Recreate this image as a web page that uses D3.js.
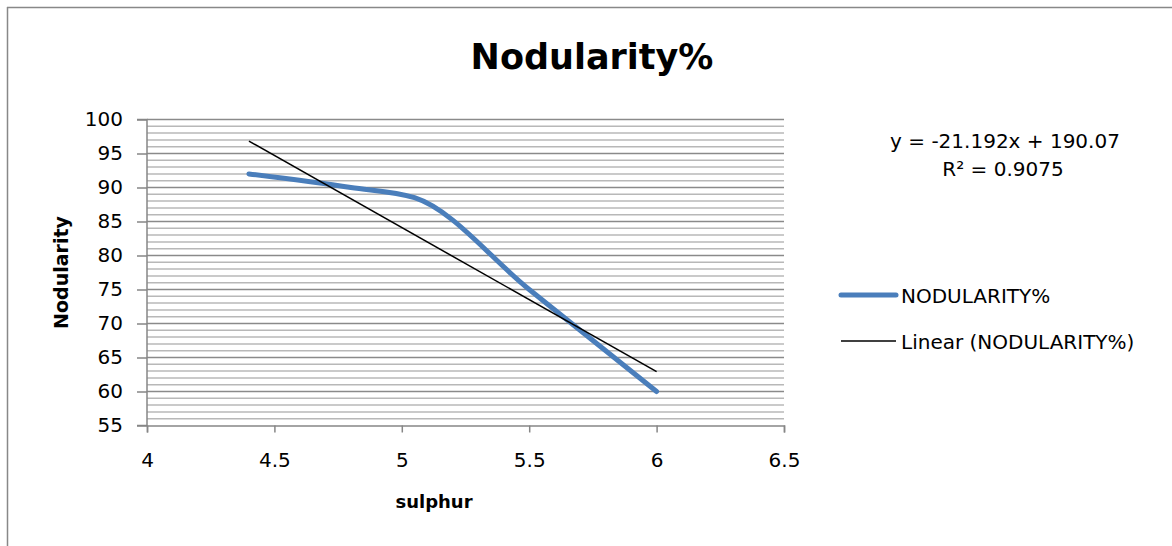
<!DOCTYPE html>
<html>
<head>
<meta charset="utf-8">
<script src="https://cdn.jsdelivr.net/npm/d3@7"></script>
<style>
  body { margin: 0; background: #fff; }
  text { font-family: "DejaVu Sans", sans-serif; fill: #000; }
</style>
</head>
<body>
<div id="container"></div>
<script>
// data
const sulphur = [4.4, 4.8, 5.05, 5.5, 6.0];
const nodularity = [92, 90, 88.5, 75, 60];
const trendSlope = -21.192;
const trendIntercept = 190.07;
const trendR2 = 0.9075;
const xTicks = [4, 4.5, 5, 5.5, 6, 6.5];
const yTicks = [55, 60, 65, 70, 75, 80, 85, 90, 95, 100];
const yMinor = d3.range(55, 101, 1);
const seriesName = "NODULARITY%";
const trendName = "Linear (NODULARITY%)";

const width = 1172;
const height = 546;
const svg = d3.select("#container").append("svg")
  .attr("width", width)
  .attr("height", height);

const x = d3.scaleLinear().domain([4, 6.5]).range([147, 784]);
const y = d3.scaleLinear().domain([55, 100]).range([425.5, 119.5]);

// chart border (only top and left visible)
svg.append("line").attr("x1", 7).attr("x2", width).attr("y1", 7.5).attr("y2", 7.5)
  .attr("stroke", "#888").attr("stroke-width", 1.5);
svg.append("line").attr("x1", 7.5).attr("x2", 7.5).attr("y1", 7).attr("y2", height)
  .attr("stroke", "#888").attr("stroke-width", 1.5);

// gridlines
svg.append("g").selectAll("line.minor")
  .data(yMinor.filter(v => v % 5 != 0))
  .join("line")
  .attr("class", "minor")
  .attr("x1", x(4)).attr("x2", x(6.5))
  .attr("y1", d => y(d)).attr("y2", d => y(d))
  .attr("stroke", "#b8b8b8").attr("stroke-width", 1.5);
svg.append("g").selectAll("line.major")
  .data(yTicks.filter(v => v != 55))
  .join("line")
  .attr("class", "major")
  .attr("x1", x(4)).attr("x2", x(6.5))
  .attr("y1", d => y(d)).attr("y2", d => y(d))
  .attr("stroke", "#8a8a8a").attr("stroke-width", 1.5);

// axes
let yAxis = d3.axisLeft(y).tickValues(yTicks).tickSize(10).tickPadding(14).tickFormat(d3.format("d"));
let gy = svg.append("g").attr("transform", `translate(${x(4)},0)`).call(yAxis);
let xAxis = d3.axisBottom(x).tickValues(xTicks).tickSize(7).tickPadding(20).tickFormat(d => d);
let gx = svg.append("g").attr("transform", `translate(0,${y(55)})`).call(xAxis);
[gy, gx].forEach(g => {
  g.select(".domain").attr("stroke", "#868686").attr("stroke-width", 1.5);
  g.selectAll(".tick line").attr("stroke", "#868686").attr("stroke-width", 1.5);
  g.selectAll(".tick text").attr("font-size", 20).attr("font-family", "DejaVu Sans").attr("fill", "#000");
});
gy.select(".domain").attr("d", `M-10,${y(55)}H0V${y(100)}H-10`);

// series (smoothed line)
const pts = sulphur.map((s, i) => [s, nodularity[i]]);
const line = d3.line().x(d => x(d[0])).y(d => y(d[1])).curve(d3.curveMonotoneX);
svg.append("path")
  .datum(pts)
  .attr("d", line)
  .attr("fill", "none")
  .attr("stroke", "#4a7ebb")
  .attr("stroke-width", 5)
  .attr("stroke-linecap", "round")
  .attr("stroke-linejoin", "round");

// linear trend
const xs = d3.extent(sulphur);
svg.append("line")
  .attr("x1", x(xs[0])).attr("y1", y(trendSlope * xs[0] + trendIntercept))
  .attr("x2", x(xs[1])).attr("y2", y(trendSlope * xs[1] + trendIntercept))
  .attr("stroke", "#000").attr("stroke-width", 1.5);

// titles
svg.append("text").text("Nodularity%")
  .attr("x", 592).attr("y", 69)
  .attr("text-anchor", "middle")
  .attr("font-size", 35).attr("font-weight", "bold");
svg.append("text").text("sulphur")
  .attr("x", 434).attr("y", 508)
  .attr("text-anchor", "middle")
  .attr("font-size", 18).attr("font-weight", "bold");
svg.append("text").text("Nodularity")
  .attr("transform", `translate(68,${(y(55) + y(100)) / 2}) rotate(-90)`)
  .attr("text-anchor", "middle")
  .attr("font-size", 19).attr("font-weight", "bold");

// trendline equation
svg.append("text").text(`y = ${trendSlope}x + ${trendIntercept}`)
  .attr("x", 1005).attr("y", 148)
  .attr("text-anchor", "middle").attr("font-size", 20);
svg.append("text").text(`R² = ${trendR2}`)
  .attr("x", 1003).attr("y", 176)
  .attr("text-anchor", "middle").attr("font-size", 20);

// legend
const legend = svg.append("g");
legend.append("line").attr("x1", 841).attr("x2", 896).attr("y1", 295).attr("y2", 295)
  .attr("stroke", "#4a7ebb").attr("stroke-width", 5).attr("stroke-linecap", "round");
legend.append("text").text(seriesName).attr("x", 901).attr("y", 303).attr("font-size", 20);
legend.append("line").attr("x1", 841).attr("x2", 896).attr("y1", 341).attr("y2", 341)
  .attr("stroke", "#000").attr("stroke-width", 1.5);
legend.append("text").text(trendName).attr("x", 901).attr("y", 349).attr("font-size", 20);
</script>
</body>
</html>
